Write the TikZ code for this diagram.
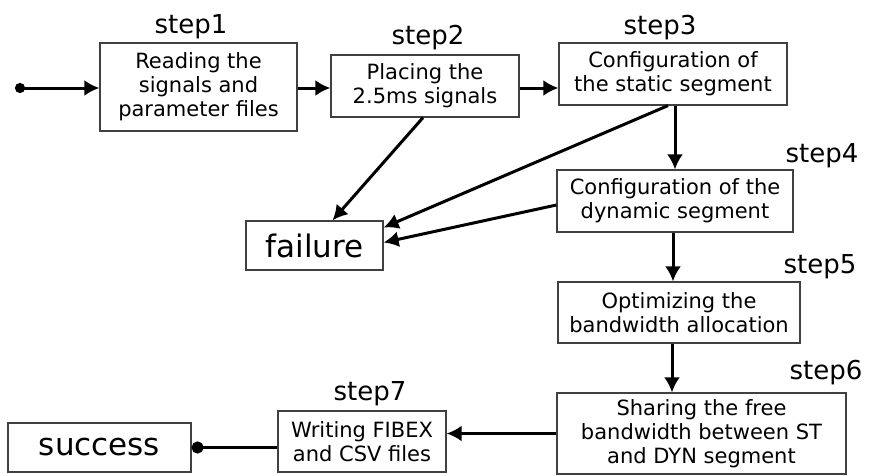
\documentclass[tikz,border=0pt]{standalone}
\usepackage{fontspec}
\setmainfont{DejaVu Sans}
\usetikzlibrary{arrows.meta,positioning}

\begin{document}
\begin{tikzpicture}[x=1pt,y=-1pt,-{Latex[length=15pt,width=16pt]},line width=3pt,
					step box/.style={rectangle,draw=black!75,line width=1.2pt,inner sep=0pt,align=center,font=\fontsize{21}{24}\selectfont},
					end box/.style={rectangle,draw=black!75,line width=1.2pt,inner sep=0pt,font=\fontsize{31}{36}\selectfont},
					step label/.style={anchor=base,inner sep=0pt,font=\fontsize{26}{30}\selectfont}]

				\useasboundingbox (0,0) rectangle (870,475);

				\node[step box,minimum width=197pt,minimum height=88pt] (read) at (198.5,87) {Reading the\\signals and\\parameter files};
				\node[step box,minimum width=188pt,minimum height=62pt] (place) at (425,86) {Placing the\\2.5ms signals};
				\node[step box,minimum width=228pt,minimum height=62pt] (static) at (673,74) {Configuration of\\the static segment};
				\node[step box,minimum width=236pt,minimum height=62pt] (dynamic) at (675,201) {Configuration of the\\dynamic segment};
				\node[step box,minimum width=242pt,minimum height=61pt] (optim) at (679,312.5) {Optimizing the\\bandwidth allocation};
				\node[step box,minimum width=289pt,minimum height=81pt] (share) at (701.5,433.5) {Sharing the free\\bandwidth between ST\\and DYN segment};
				\node[step box,minimum width=168pt,minimum height=61pt] (write) at (362,441.5) {Writing FIBEX\\and CSV files};
				\node[end box,minimum width=137pt,minimum height=49pt] (failure) at (314.5,245.5) {failure};
				\node[end box,minimum width=183pt,minimum height=49pt] (success) at (99.5,447.5) {success};

				\node[step label] (l1) at (191,33) {step1};
				\node[step label] (l2) at (428,44) {step2};
				\node[step label] (l3) at (660,34) {step3};
				\node[step label] (l4) at (822,162) {step4};
				\node[step label] (l5) at (820,273) {step5};
				\node[step label] (l6) at (826,379) {step6};
				\node[step label] (l7) at (370,400) {step7};

				\coordinate (start) at (15,88);

				\path
				(start) edge [{Circle[length=10pt]}-{Latex[length=15pt,width=16pt]}] (read.west |- start)
				(read.east |- start) edge (place.west |- start)
				(place.east |- start) edge (static.west |- start)
				([xshift=2pt]static.south) edge ([xshift=2pt]static.south |- dynamic.north)
				([xshift=-2pt]dynamic.south) edge ([xshift=-2pt]dynamic.south |- optim.north)
				([xshift=-7pt]optim.south) edge ([xshift=-7pt]optim.south |- share.north)
				(share.west) edge (share.west -| write.east)
				([xshift=-2pt]place.south) edge ([xshift=18pt]failure.north)
				([xshift=-5pt]static.south) edge ([yshift=18pt]failure.east)
				([yshift=-4pt]dynamic.west) edge ([yshift=3pt]failure.east)
				(write.west |- success.east) edge [-{Circle[length=12pt]}] (success.east);
			\end{tikzpicture}
\end{document}
